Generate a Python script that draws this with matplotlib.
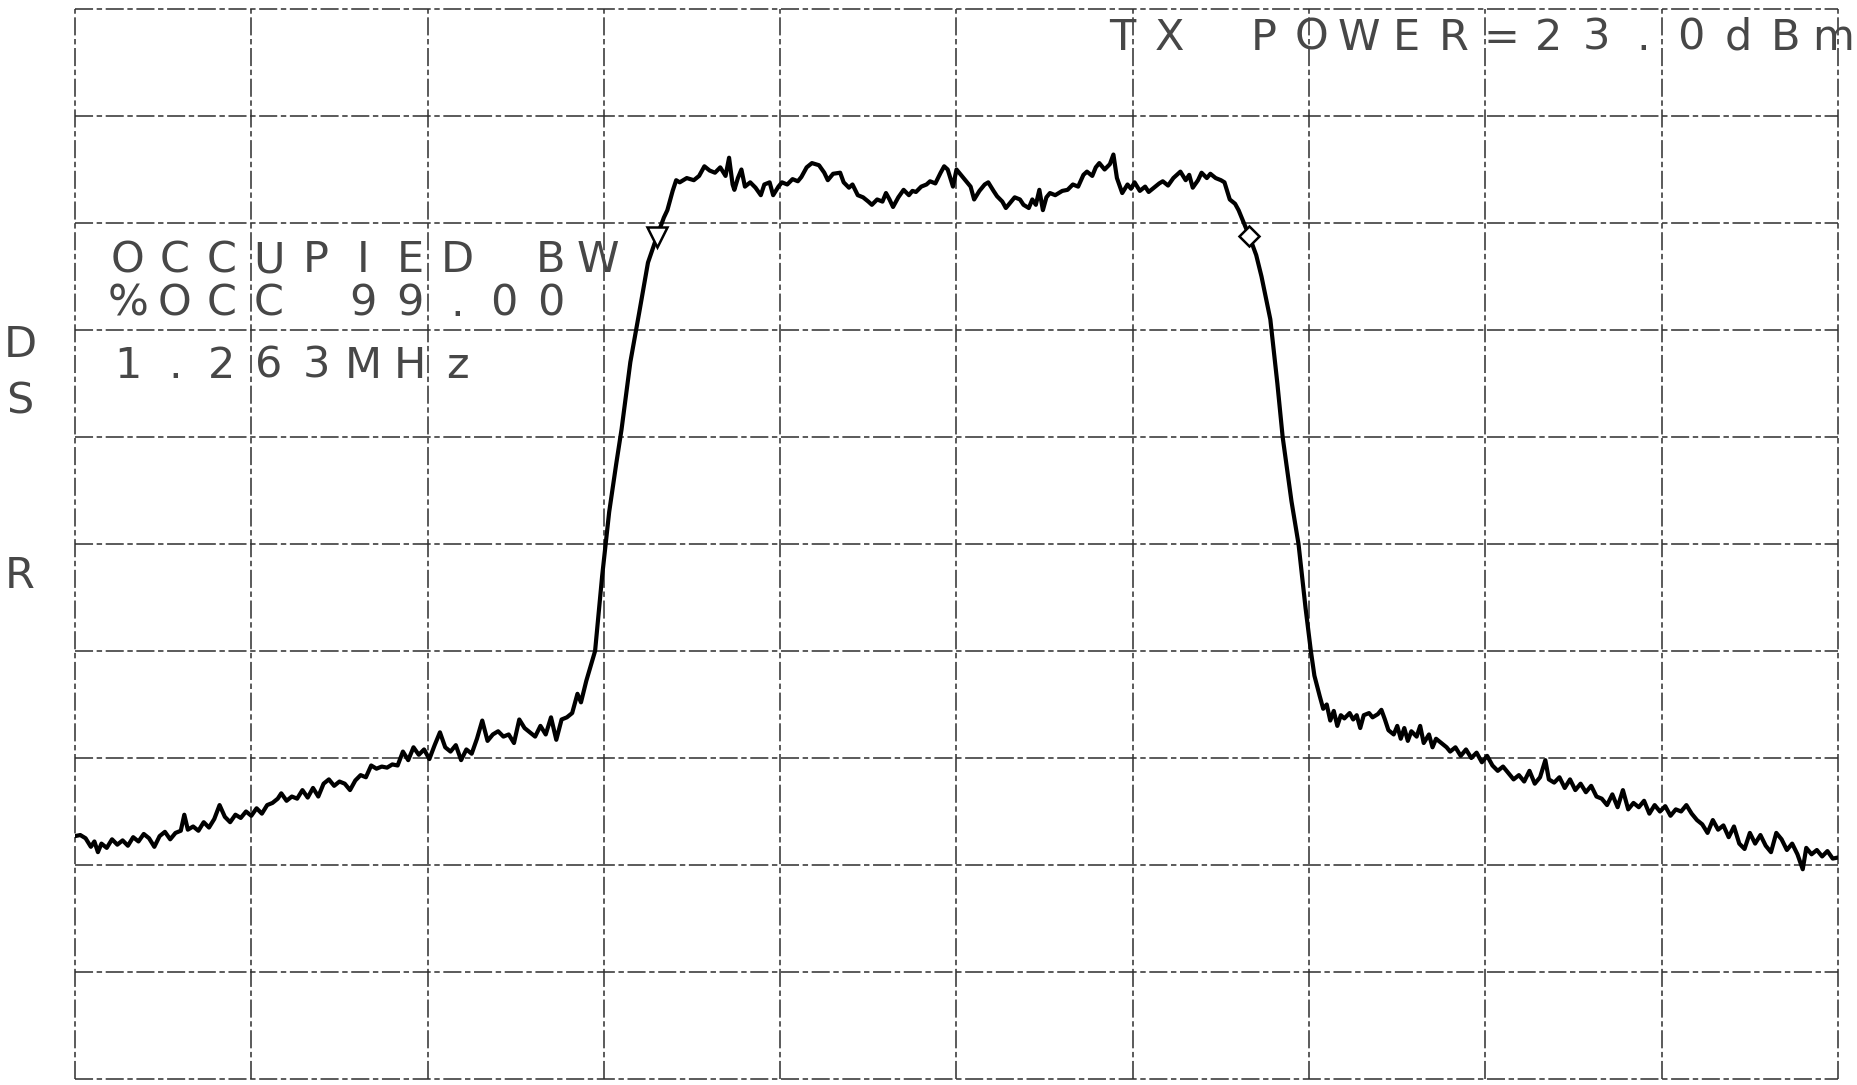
import matplotlib
matplotlib.use("Agg")
import matplotlib.pyplot as plt

# spectrum trace in grid divisions (x: 0-10, y: 0-10)
skirt_lo_x = [0.00, 0.03, 0.06, 0.09, 0.11, 0.13, 0.15, 0.18, 0.21, 0.24, 0.27, 0.30, 0.33, 0.36,
              0.39, 0.42, 0.45, 0.48, 0.51, 0.54, 0.57, 0.60, 0.62, 0.64, 0.67, 0.70, 0.73, 0.76,
              0.79, 0.82, 0.85, 0.88, 0.91, 0.94, 0.97, 1.00, 1.03, 1.06, 1.09, 1.12, 1.15, 1.17,
              1.20, 1.23, 1.26, 1.29, 1.32, 1.35, 1.38, 1.41, 1.44, 1.47, 1.50, 1.53, 1.56, 1.59,
              1.62, 1.65, 1.68, 1.71, 1.74, 1.77, 1.80, 1.83, 1.86, 1.89, 1.92, 1.95, 1.98, 2.01,
              2.04, 2.07, 2.10, 2.13, 2.16, 2.19, 2.22, 2.25, 2.28, 2.31, 2.34, 2.37, 2.40, 2.43,
              2.46, 2.49, 2.52, 2.55, 2.58, 2.61, 2.64, 2.67, 2.70, 2.73, 2.76, 2.79, 2.82, 2.85,
              2.87, 2.90]
skirt_lo_y = [2.27, 2.28, 2.25, 2.17, 2.22, 2.12, 2.20, 2.16, 2.24, 2.19, 2.23, 2.18, 2.26, 2.22,
              2.29, 2.25, 2.17, 2.27, 2.31, 2.24, 2.30, 2.32, 2.47, 2.33, 2.36, 2.32, 2.40, 2.35,
              2.43, 2.56, 2.45, 2.40, 2.47, 2.44, 2.50, 2.46, 2.53, 2.48, 2.56, 2.58, 2.62, 2.67,
              2.60, 2.64, 2.62, 2.70, 2.63, 2.72, 2.64, 2.76, 2.80, 2.74, 2.78, 2.76, 2.70, 2.79,
              2.84, 2.82, 2.93, 2.90, 2.92, 2.91, 2.94, 2.93, 3.06, 2.98, 3.10, 3.03, 3.08, 2.99,
              3.12, 3.24, 3.10, 3.06, 3.12, 2.98, 3.08, 3.04, 3.18, 3.35, 3.16, 3.22, 3.25, 3.20,
              3.22, 3.14, 3.36, 3.28, 3.24, 3.20, 3.30, 3.22, 3.38, 3.17, 3.36, 3.38, 3.42, 3.60,
              3.52, 3.72]

rise_x = [2.95, 2.99, 3.03, 3.07, 3.10, 3.15, 3.20, 3.25, 3.30, 3.34, 3.36, 3.39, 3.41]
rise_y = [4.00, 4.70, 5.30, 5.75, 6.07, 6.70, 7.16, 7.63, 7.87, 8.05, 8.12, 8.30, 8.40]

top_x = [3.43, 3.47, 3.51, 3.54, 3.57, 3.60, 3.63, 3.66, 3.69, 3.71, 3.73, 3.74, 3.76, 3.78,
         3.80, 3.83, 3.86, 3.89, 3.91, 3.94, 3.96, 3.99, 4.01, 4.04, 4.07, 4.10, 4.12, 4.15,
         4.18, 4.22, 4.25, 4.27, 4.30, 4.34, 4.36, 4.39, 4.41, 4.44, 4.47, 4.50, 4.52, 4.55,
         4.58, 4.60, 4.62, 4.64, 4.67, 4.70, 4.73, 4.75, 4.77, 4.80, 4.83, 4.85, 4.88, 4.91,
         4.93, 4.95, 4.98, 5.00, 5.03, 5.06, 5.08, 5.10, 5.13, 5.16, 5.18, 5.21, 5.23, 5.26,
         5.28, 5.31, 5.33, 5.36, 5.38, 5.41, 5.43, 5.45, 5.47, 5.49, 5.51, 5.53, 5.56, 5.60,
         5.63, 5.66, 5.69, 5.72, 5.74, 5.77, 5.79, 5.81, 5.84, 5.87, 5.89, 5.91, 5.94, 5.97,
         5.99, 6.01, 6.04, 6.07, 6.09, 6.12, 6.15, 6.17, 6.20, 6.23, 6.27, 6.30, 6.32, 6.34,
         6.37, 6.39, 6.42, 6.44, 6.47, 6.50, 6.52, 6.55, 6.58, 6.60, 6.63, 6.66]
top_y = [8.38, 8.42, 8.40, 8.44, 8.53, 8.49, 8.47, 8.52, 8.44, 8.61, 8.36, 8.31, 8.42, 8.50,
         8.34, 8.38, 8.33, 8.26, 8.36, 8.38, 8.26, 8.34, 8.38, 8.36, 8.41, 8.39, 8.43, 8.52,
         8.56, 8.54, 8.47, 8.40, 8.46, 8.47, 8.38, 8.33, 8.36, 8.26, 8.24, 8.20, 8.17, 8.22,
         8.20, 8.28, 8.22, 8.15, 8.24, 8.31, 8.26, 8.30, 8.29, 8.34, 8.36, 8.39, 8.37, 8.47,
         8.53, 8.50, 8.34, 8.50, 8.44, 8.38, 8.34, 8.22, 8.30, 8.36, 8.38, 8.30, 8.25, 8.20,
         8.14, 8.20, 8.24, 8.22, 8.17, 8.14, 8.22, 8.17, 8.31, 8.12, 8.24, 8.28, 8.26, 8.30,
         8.31, 8.36, 8.34, 8.45, 8.48, 8.44, 8.52, 8.56, 8.50, 8.55, 8.64, 8.42, 8.28, 8.36,
         8.32, 8.38, 8.30, 8.34, 8.29, 8.33, 8.37, 8.39, 8.35, 8.42, 8.48, 8.40, 8.45, 8.33,
         8.40, 8.47, 8.42, 8.46, 8.42, 8.40, 8.38, 8.22, 8.18, 8.12, 8.00, 7.88]

fall_x = [6.70, 6.73, 6.78, 6.82, 6.85, 6.90, 6.94, 6.98, 7.01, 7.03]
fall_y = [7.70, 7.50, 7.10, 6.50, 6.00, 5.40, 5.00, 4.40, 4.00, 3.77]

skirt_hi_x = [7.06, 7.08, 7.10, 7.12, 7.14, 7.16, 7.18, 7.20, 7.23, 7.25, 7.27, 7.29, 7.31, 7.34,
              7.36, 7.39, 7.41, 7.43, 7.45, 7.48, 7.50, 7.52, 7.54, 7.56, 7.58, 7.61, 7.63, 7.65,
              7.68, 7.70, 7.72, 7.75, 7.78, 7.80, 7.83, 7.86, 7.89, 7.92, 7.95, 7.98, 8.01, 8.04,
              8.07, 8.10, 8.13, 8.16, 8.19, 8.22, 8.25, 8.28, 8.31, 8.34, 8.36, 8.39, 8.42, 8.45,
              8.48, 8.51, 8.54, 8.57, 8.60, 8.63, 8.66, 8.69, 8.72, 8.75, 8.78, 8.81, 8.84, 8.87,
              8.90, 8.93, 8.96, 8.99, 9.02, 9.05, 9.08, 9.11, 9.14, 9.17, 9.20, 9.23, 9.26, 9.29,
              9.32, 9.35, 9.38, 9.41, 9.44, 9.47, 9.50, 9.53, 9.56, 9.59, 9.62, 9.65, 9.68, 9.71,
              9.74, 9.77, 9.80, 9.82, 9.85, 9.88, 9.91, 9.94, 9.97, 10.00]
skirt_hi_y = [3.58, 3.46, 3.50, 3.35, 3.44, 3.30, 3.40, 3.37, 3.42, 3.36, 3.40, 3.28, 3.40, 3.42,
              3.38, 3.41, 3.45, 3.36, 3.26, 3.22, 3.30, 3.18, 3.28, 3.16, 3.25, 3.20, 3.30, 3.14,
              3.22, 3.10, 3.18, 3.14, 3.10, 3.06, 3.10, 3.02, 3.08, 3.00, 3.05, 2.96, 3.02, 2.93,
              2.88, 2.92, 2.86, 2.80, 2.84, 2.78, 2.88, 2.76, 2.82, 2.98, 2.80, 2.77, 2.82, 2.72,
              2.80, 2.70, 2.76, 2.68, 2.74, 2.64, 2.62, 2.56, 2.66, 2.54, 2.70, 2.52, 2.58, 2.54,
              2.60, 2.48, 2.56, 2.50, 2.55, 2.46, 2.52, 2.50, 2.56, 2.48, 2.42, 2.38, 2.30, 2.42,
              2.33, 2.37, 2.26, 2.36, 2.20, 2.15, 2.30, 2.20, 2.28, 2.18, 2.12, 2.30, 2.24, 2.14,
              2.20, 2.10, 1.96, 2.16, 2.10, 2.14, 2.08, 2.13, 2.06, 2.07]

# occupied-bandwidth markers
obw_lo = (3.30, 7.87)
obw_hi = (6.66, 7.88)

header = "TX POWER=23.0dBm"
obw_lines = ["OCCUPIED BW", "%OCC 99.00", "1.263MHz"]
side_letters = ["D", "S", "R"]

W, H = 1858, 1085
fig = plt.figure(figsize=(W / 100, H / 100), dpi=100)
fig.patch.set_facecolor("white")
ax = fig.add_axes([75 / W, 6 / H, (1838 - 75) / W, (1079 - 9) / H])
ax.set_xlim(0, 10)
ax.set_ylim(0, 10)
ax.axis("off")

grid_style = dict(color="#2e2e2e", lw=1.3, alpha=0.85, linestyle=(0, (10, 2, 3, 2)), clip_on=False)
for i in range(11):
    ax.axvline(i, **grid_style)
    ax.axhline(i, **grid_style)

trace_x = skirt_lo_x + rise_x + top_x + fall_x + skirt_hi_x
trace_y = skirt_lo_y + rise_y + top_y + fall_y + skirt_hi_y
ax.plot(trace_x, trace_y, color="black", lw=3.0, solid_joinstyle="round", zorder=3)
ax.plot(*obw_lo, marker="v", ms=14, mfc="white", mec="black", mew=1.8, zorder=4)
ax.plot(*obw_hi, marker="D", ms=10, mfc="white", mec="black", mew=1.8, zorder=4)

txt = dict(family="DejaVu Sans", weight="normal", fontsize=31, color="#474747")


def spaced(s, x0, base, pitch=47.0):
    # plotter text: fixed character pitch, positions in figure pixels from top-left
    for i, ch in enumerate(s):
        if ch != " ":
            fig.text((x0 + i * pitch) / W, 1 - base / H, ch, ha="center", va="baseline", **txt)


spaced(header, 1122, 50, 47.4)
for line, base in zip(obw_lines, [272, 316, 378]):
    spaced(line, 128, base)
for ch, base in zip(side_letters, [357, 413, 588]):
    spaced(ch, 20, base)

fig.savefig("out.png", dpi=100, facecolor="white")
